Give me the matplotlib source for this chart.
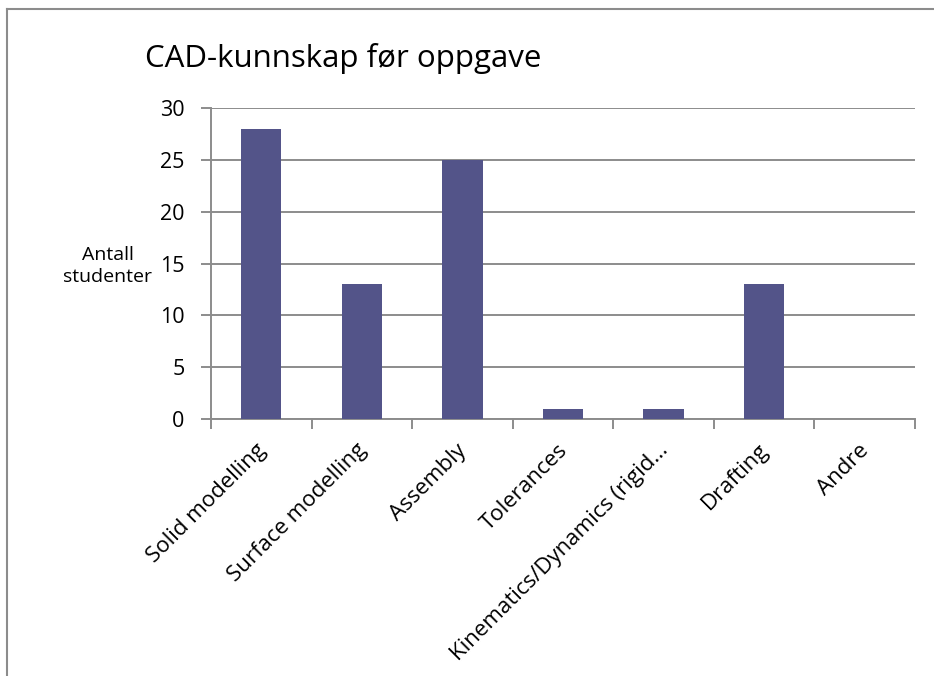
import matplotlib
matplotlib.use("Agg")
import matplotlib.pyplot as plt
from matplotlib.lines import Line2D
import matplotlib.transforms as mtrans

categories = ["Solid modelling", "Surface modelling", "Assembly", "Tolerances",
              "Kinematics/Dynamics (rigid…", "Drafting", "Andre"]
values = [28, 13, 25, 1, 1, 13, 0]
yticks = [0, 5, 10, 15, 20, 25, 30]
title = "CAD-kunnskap før oppgave"
ylabel = "Antall\nstudenter"

plt.rcParams['font.family'] = ['Open Sans', 'DejaVu Sans']

W, H = 934, 676
fig = plt.figure(figsize=(W / 100, H / 100), dpi=100)
ax = fig.add_axes([211 / W, 1 - 419 / H, (915 - 211) / W, (419 - 108) / H])

gray = "#8c8c8c"
x = list(range(len(categories)))
ax.bar(x, values, width=0.4, color="#535489", zorder=3)
ax.set_xlim(-0.5, len(categories) - 0.5)
ax.set_ylim(0, 30)
ax.set_yticks(yticks)
ax.set_yticklabels([str(v) for v in yticks], fontsize=15.5)
ax.yaxis.grid(True, color=gray, linewidth=1.4, zorder=0)
ax.set_axisbelow(True)
for s in ["top", "right"]:
    ax.spines[s].set_visible(False)
for s in ["left", "bottom"]:
    ax.spines[s].set_color(gray)
    ax.spines[s].set_linewidth(1.4)
ax.tick_params(axis="y", length=7, width=1.4, color=gray, pad=12)

# category boundary ticks
ax.set_xticks([i - 0.5 for i in range(len(categories) + 1)], minor=False)
ax.set_xticklabels([])
ax.tick_params(axis="x", length=7, width=1.4, color=gray)
ax.set_xticks(x, minor=True)
ax.set_xticklabels(categories, minor=True, rotation=45, ha="right",
                   rotation_mode="anchor", fontsize=16)
ax.tick_params(axis="x", which="minor", length=0, pad=15)
offset = mtrans.ScaledTranslation(-6 / 100, 0, fig.dpi_scale_trans)
for lbl in ax.get_xticklabels(minor=True):
    lbl.set_transform(lbl.get_transform() + offset)

fig.text(145 / W, 1 - 58 / H, title, fontsize=22.5, ha="left", va="center")
fig.text(108 / W, 1 - 266 / H, ylabel, fontsize=14, ha="center", va="center",
         linespacing=1.3)

# outer frame (top and left visible)
fig.add_artist(Line2D([7 / W, 1.0], [1 - 9 / H, 1 - 9 / H], color=gray,
                      linewidth=1.5, transform=fig.transFigure))
fig.add_artist(Line2D([7 / W, 7 / W], [0, 1 - 9 / H], color=gray,
                      linewidth=1.5, transform=fig.transFigure))

fig.savefig("out.png", dpi=100, facecolor="white")
